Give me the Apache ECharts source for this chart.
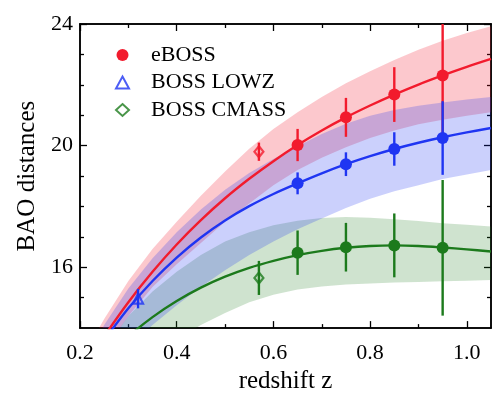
<!DOCTYPE html>
<html><head><meta charset="utf-8">
<script src="https://cdn.jsdelivr.net/npm/echarts@6/dist/echarts.min.js"></script>
<style>html,body{margin:0;padding:0;background:#fff}#c{width:500px;height:399px}</style>
</head><body><div id="c"></div>
<script>
// ---- tick labels ----
const xTicks = [0.2, 0.4, 0.6, 0.8, 1.0];
const xMinorTicks = [0.3, 0.5, 0.7, 0.9];
const yTicks = [16, 20, 24];
const yMinorTicks = [15, 17, 18, 19, 21, 22, 23];

// ---- legend names ----
const seriesNames = ['eBOSS', 'BOSS LOWZ', 'BOSS CMASS'];

// ---- data points (eBOSS, circles) ----
const ebossZ = [0.65, 0.75, 0.85, 0.95];
const redVals = [20.02, 20.93, 21.68, 22.31];
const redErr = [0.53, 0.64, 0.90, 2.00];
const blueVals = [18.76, 19.39, 19.89, 20.25];
const blueErr = [0.36, 0.39, 0.55, 1.21];
const greenVals = [16.48, 16.66, 16.72, 16.64];
const greenErr = [0.73, 0.80, 1.05, 2.23];

// ---- BOSS LOWZ (triangle) ----
const lowzZ = [0.32];
const lowzVals = [14.97];
const lowzErr = [0.32];

// ---- BOSS CMASS (diamonds) ----
const cmassZ = [0.57];
const cmassRedVals = [19.80];
const cmassRedErr = [0.30];
const cmassGreenVals = [15.65];
const cmassGreenErr = [0.56];

// ---- best-fit curves ----
const curveZ = [0.25, 0.3, 0.35, 0.4, 0.45, 0.5, 0.55, 0.6, 0.65, 0.7, 0.75, 0.8, 0.85, 0.9, 0.95, 1.0, 1.05];
const redCurveV = [13.73, 14.85, 15.85, 16.75, 17.55, 18.27, 18.91, 19.49, 20.02, 20.50, 20.93, 21.32, 21.68, 22.01, 22.31, 22.59, 22.85];
const blueCurveV = [13.6, 14.65, 15.55, 16.32, 16.98, 17.54, 18.01, 18.41, 18.76, 19.09, 19.39, 19.655, 19.89, 20.095, 20.275, 20.435, 20.58];
const greenCurveV = [12.9, 13.72, 14.36, 14.89, 15.33, 15.69, 15.98, 16.21, 16.40, 16.54, 16.64, 16.70, 16.72, 16.70, 16.65, 16.59, 16.52];

// ---- bands ----
const bandZ = [0.2, 0.25, 0.3, 0.35, 0.4, 0.45, 0.5, 0.55, 0.6, 0.65, 0.7, 0.75, 0.8, 0.85, 0.9, 0.95, 1.0, 1.05];
const redUpper = [12.9, 14.3, 15.55, 16.6, 17.5, 18.35, 19.15, 19.9, 20.55, 21.1, 21.6, 22.05, 22.45, 22.82, 23.15, 23.45, 23.7, 23.93];
const redLower = [11.8, 13.25, 14.4, 15.35, 16.1, 16.8, 17.5, 18.1, 18.7, 19.2, 19.6, 19.95, 20.25, 20.5, 20.7, 20.85, 20.98, 21.1];
const blueUpper = [12.6, 14.1, 15.3, 16.3, 17.15, 17.9, 18.55, 19.1, 19.56, 19.98, 20.38, 20.72, 20.98, 21.17, 21.31, 21.42, 21.52, 21.6];
const blueLower = [11.2, 12.5, 13.4, 14.1, 14.75, 15.35, 15.9, 16.4, 16.85, 17.25, 17.6, 17.95, 18.25, 18.5, 18.7, 18.9, 19.05, 19.2];
const greenUpper = [12.0, 13.3, 14.4, 15.2, 15.85, 16.4, 16.85, 17.15, 17.38, 17.53, 17.62, 17.65, 17.63, 17.58, 17.52, 17.45, 17.4, 17.34];
const greenLower = [11.0, 11.9, 12.6, 13.2, 13.65, 14.1, 14.5, 14.85, 15.1, 15.27, 15.37, 15.43, 15.47, 15.5, 15.52, 15.54, 15.56, 15.58];

const RED = '#f21b2d', BLUE = '#1f35f2', GREEN = '#1c7a1c';
const FONT = 'Liberation Serif';
const XMIN = 0.2, XMAX = 1.05, YMIN = 14, YMAX = 24;

function clipRect(params) {
  const cs = params.coordSys;
  return {type: 'rect', shape: {x: cs.x, y: cs.y, width: cs.width, height: cs.height}};
}

function band(lower, upper, color, z) {
  return {
    type: 'custom', silent: true, z: z, clip: true,
    data: bandZ.map((x, i) => [x, lower[i], upper[i]]),
    encode: {x: 0, y: [1, 2]},
    renderItem(params, api) {
      if (params.dataIndex !== 0) return null;
      const pts = [];
      for (let i = 0; i < bandZ.length; i++) pts.push(api.coord([bandZ[i], upper[i]]));
      for (let i = bandZ.length - 1; i >= 0; i--) pts.push(api.coord([bandZ[i], lower[i]]));
      return {type: 'polygon', shape: {points: pts}, style: {fill: color}, clipPath: clipRect(params)};
    }
  };
}

function curve(vs, color) {
  return {
    type: 'line', silent: true, z: 3, clip: true, showSymbol: false, smooth: 0.3,
    data: curveZ.map((x, i) => [x, vs[i]]),
    lineStyle: {color: color, width: 2.4}
  };
}

function errbars(zs, vs, es, color, z) {
  return {
    type: 'custom', silent: true, z: z, clip: true,
    data: zs.map((x, i) => [x, vs[i] - es[i], vs[i] + es[i]]),
    encode: {x: 0, y: [1, 2]},
    renderItem(params, api) {
      const a = api.coord([api.value(0), api.value(1)]);
      const b = api.coord([api.value(0), api.value(2)]);
      return {type: 'line', shape: {x1: a[0], y1: a[1], x2: b[0], y2: b[1]},
        style: {stroke: color, lineWidth: 2.4}, clipPath: clipRect(params)};
    }
  };
}

function points(name, zs, vs, symbol, size, color, hollow, z) {
  return {
    name: name, type: 'scatter', silent: true, z: z, symbol: symbol, symbolSize: size,
    symbolKeepAspect: true,
    data: zs.map((x, i) => [x, vs[i]]),
    itemStyle: hollow ? {color: 'rgba(255,255,255,0)', borderColor: color, borderWidth: 2.2}
                      : {color: color, borderWidth: 0, opacity: 1}
  };
}

const axisLine = {show: true, onZero: false, lineStyle: {color: '#000', width: 1.5}};
function xAx(pos, ticks, len, labels) {
  const a = {
    type: 'value', position: pos, min: XMIN, max: XMAX,
    axisLine: axisLine, splitLine: {show: false},
    axisTick: {show: true, inside: true, length: len, customValues: ticks, lineStyle: {color: '#000', width: 1.3}},
    axisLabel: {show: false}
  };
  if (labels) {
    a.axisLabel = {show: true, customValues: ticks, formatter: v => v.toFixed(1), margin: 14,
      fontSize: 22, fontFamily: FONT, color: '#000'};
    a.name = 'redshift z'; a.nameLocation = 'middle'; a.nameGap = 35;
    a.nameTextStyle = {fontSize: 25, fontFamily: FONT, color: '#000'};
  }
  return a;
}
function yAx(pos, ticks, len, labels) {
  const a = {
    type: 'value', position: pos, min: YMIN, max: YMAX,
    axisLine: axisLine, splitLine: {show: false},
    axisTick: {show: true, inside: true, length: len, customValues: ticks, lineStyle: {color: '#000', width: 1.3}},
    axisLabel: {show: false}
  };
  if (labels) {
    a.axisLabel = {show: true, customValues: ticks, formatter: v => String(v), margin: 7,
      fontSize: 22, fontFamily: FONT, color: '#000'};
    a.name = 'BAO distances'; a.nameLocation = 'middle'; a.nameGap = 38;
    a.nameTextStyle = {fontSize: 25, fontFamily: FONT, color: '#000'};
  }
  return a;
}

const chart = echarts.init(document.getElementById('c'), null, {renderer: 'canvas'});
chart.setOption({
  animation: false,
  backgroundColor: '#fff',
  grid: {left: 80, top: 24, right: 9, bottom: 62, containLabel: false},
  xAxis: [xAx('bottom', xTicks, 7, true), xAx('bottom', xMinorTicks, 4, false),
          xAx('top', xTicks, 7, false), xAx('top', xMinorTicks, 4, false)],
  yAxis: [yAx('left', yTicks, 7, true), yAx('left', yMinorTicks, 4, false),
          yAx('right', yTicks, 7, false), yAx('right', yMinorTicks, 4, false)],
  legend: {
    data: seriesNames, orient: 'vertical', left: 110, top: 39,
    itemWidth: 13, itemHeight: 12, itemGap: 5.5, selectedMode: false, symbolKeepAspect: true,
    textStyle: {fontSize: 22, fontFamily: FONT, color: '#000', padding: [0, 0, 0, 17]}
  },
  series: [
    band(greenLower, greenUpper, 'rgba(28,122,28,0.21)', 1),
    band(redLower, redUpper, 'rgba(242,27,45,0.24)', 1),
    band(blueLower, blueUpper, 'rgba(31,53,242,0.23)', 1),
    curve(greenCurveV, GREEN),
    curve(redCurveV, RED),
    curve(blueCurveV, BLUE),
    errbars(ebossZ, redVals, redErr, RED, 4),
    errbars(ebossZ, greenVals, greenErr, GREEN, 4),
    errbars(ebossZ, blueVals, blueErr, BLUE, 5),
    errbars(lowzZ, lowzVals, lowzErr, BLUE, 5),
    errbars(cmassZ, cmassRedVals, cmassRedErr, RED, 5),
    errbars(cmassZ, cmassGreenVals, cmassGreenErr, GREEN, 5),
    points('eBOSS', ebossZ, redVals, 'circle', 12, RED, false, 6),
    points('eBOSS-DV', ebossZ, blueVals, 'circle', 12, BLUE, false, 6),
    points('eBOSS-DH', ebossZ, greenVals, 'circle', 12, GREEN, false, 6),
    points('BOSS LOWZ', lowzZ, lowzVals, 'triangle', 10, BLUE, true, 6),
    points('BOSS CMASS', cmassZ, cmassGreenVals, 'diamond', [9, 11], GREEN, true, 6),
    points('BOSS CMASS-red', cmassZ, cmassRedVals, 'diamond', [9, 11], RED, true, 6)
  ]
});
</script>
</body></html>
